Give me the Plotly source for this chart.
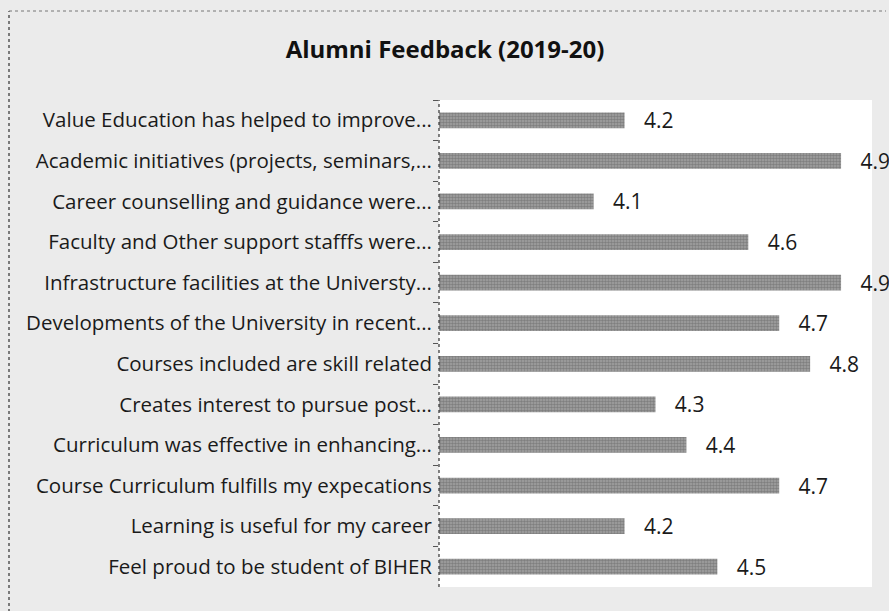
import plotly.graph_objects as go

categories = [
    "Value Education has helped to improve...",
    "Academic initiatives (projects, seminars,...",
    "Career counselling and guidance were...",
    "Faculty and Other support stafffs were...",
    "Infrastructure facilities at the Universty...",
    "Developments of the University in recent...",
    "Courses included are skill related",
    "Creates interest to pursue post...",
    "Curriculum was effective in enhancing...",
    "Course Curriculum fulfills my expecations",
    "Learning is useful for my career",
    "Feel proud to be student of BIHER",
]
scores = [4.2, 4.9, 4.1, 4.6, 4.9, 4.7, 4.8, 4.3, 4.4, 4.7, 4.2, 4.5]
title_text = "Alumni Feedback (2019-20)"

FONT = "Open Sans"

fig = go.Figure()
fig.add_trace(go.Bar(
    x=scores,
    y=categories,
    orientation="h",
    marker=dict(
        color="#9a9a9a",
        line=dict(width=0),
        pattern=dict(shape=".", fgcolor="#5a5a5a", bgcolor="#a4a4a4", size=3, solidity=0.6),
    ),
    text=scores,
    texttemplate="\u00a0\u00a0\u00a0%{x:.1f}",
    textposition="outside",
    constraintext="none",
    textfont=dict(family=FONT, size=21, color="#1a1a1a"),
    cliponaxis=False,
    width=0.39,
))

fig.update_layout(
    width=889,
    height=611,
    margin=dict(l=439, r=17, t=100, b=24, autoexpand=False),
    paper_bgcolor="#ebebeb",
    plot_bgcolor="#ffffff",
    showlegend=False,
    title=dict(
        text="<b>" + title_text + "</b>",
        x=(282 + 608) / 2 / 889,
        xanchor="center",
        y=1 - 50 / 611,
        yanchor="middle",
        font=dict(family=FONT, size=24, color="#111111"),
    ),
    xaxis=dict(
        range=[3.6, 5.0],
        showgrid=False,
        zeroline=False,
        showticklabels=False,
        ticks="",
        showline=False,
    ),
    yaxis=dict(
        autorange="reversed",
        showgrid=False,
        ticks="outside",
        tickson="boundaries",
        ticklen=5,
        tickcolor="#555555",
        ticklabelstandoff=6,
        tickfont=dict(family=FONT, size=20.5, color="#1a1a1a"),
        showline=False,
    ),
    shapes=[
        dict(type="line", xref="paper", yref="paper", x0=0, x1=0, y0=0, y1=1,
             line=dict(color="#333333", width=1.2, dash="dot")),
        dict(type="line", xref="paper", yref="paper",
             x0=(9 - 439) / 433, x1=(9 - 439) / 433, y0=-1, y1=(611 - 11 - 24) / 487,
             line=dict(color="#555555", width=1.5, dash="dot")),
        dict(type="line", xref="paper", yref="paper",
             x0=(9 - 439) / 433, x1=(886 - 439) / 433,
             y0=(611 - 11 - 24) / 487, y1=(611 - 11 - 24) / 487,
             line=dict(color="#777777", width=1, dash="dot")),
    ],
)

fig.write_html(
    "out.html",
    config={"displayModeBar": False},
    post_script="document.body.style.margin='0px';document.body.style.overflow='hidden';",
)
